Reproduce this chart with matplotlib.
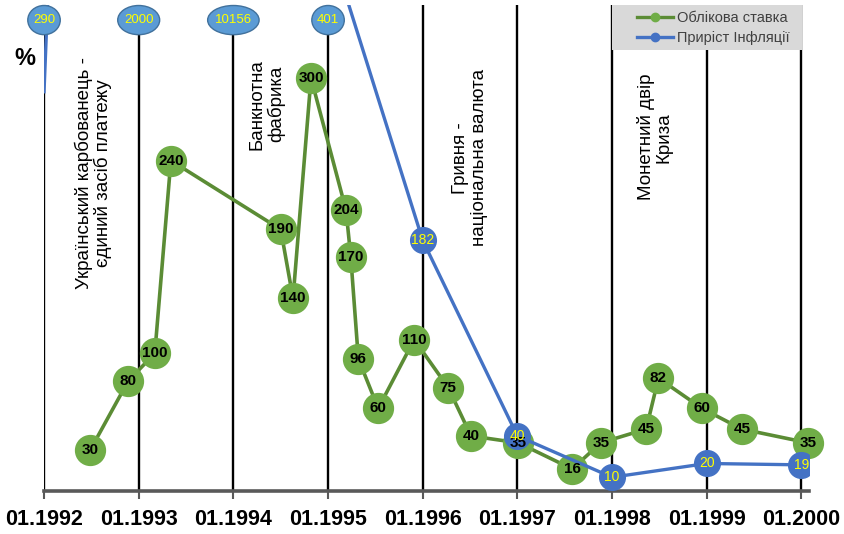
import matplotlib.pyplot as plt
from matplotlib.lines import Line2D
from matplotlib.patches import Ellipse, Rectangle
from matplotlib.transforms import blended_transform_factory

plt.rcParams['font.family'] = ['Liberation Sans', 'DejaVu Sans']

# Облікова ставка НБУ, % (дата зміни у роках)
rate_dates = [1992.49, 1992.89, 1993.17, 1993.34, 1994.50, 1994.63, 1994.82,
              1995.19, 1995.24, 1995.32, 1995.53, 1995.91, 1996.27, 1996.51,
              1997.01, 1997.58, 1997.88, 1998.36, 1998.49, 1998.95, 1999.37,
              2000.07]
rate_values = [30, 80, 100, 240, 190, 140, 300,
               204, 170, 96, 60, 110, 75, 40,
               35, 16, 35, 45, 82, 60, 45,
               35]

# Приріст інфляції, % за рік
infl_years = [1992, 1993, 1994, 1995, 1996, 1997, 1998, 1999, 2000]
infl_values = [290, 2000, 10156, 401, 182, 40, 10, 20, 19]

year_ticks = list(range(1992, 2001))
tick_labels = [f'01.{y}' for y in year_ticks]

events = ['Український карбованець -\nєдиний засіб платежу',
          'Банкнотна\nфабрика',
          'Гривня -\nнаціональна валюта',
          'Монетний двір\nКриза']

green_line = '#5B8C35'
green_mark = '#70AD47'
blue = '#4472C4'

fig = plt.figure(figsize=(8.45, 5.34), dpi=100)
ax = fig.add_axes([0.0521, 0.0805, 0.9053, 0.9101])
ax.set_xlim(1992, 2000.08)
ax.set_ylim(0, 353)
top = blended_transform_factory(ax.transData, ax.transAxes)

for y in year_ticks:
    ax.axvline(y, color='black', lw=1.7, zorder=1)

# облікова ставка
ax.plot(rate_dates, rate_values, color=green_line, lw=2.6, zorder=3,
        marker='o', markersize=21.5, markerfacecolor=green_mark,
        markeredgecolor=green_mark, clip_on=False)
for x, v in zip(rate_dates, rate_values):
    ax.text(x, v, str(v), ha='center', va='center', fontsize=11,
            fontweight='bold', color='black', zorder=10, clip_on=False)

# інфляція: великі значення виходять за межі осі, підписуємо їх угорі
shown = [i for i, v in enumerate(infl_values) if v < 200]
ax.plot(infl_years, infl_values, color=blue, lw=2.4, zorder=5,
        marker='o', markersize=18.5, markevery=shown,
        markerfacecolor=blue, markeredgecolor=blue)
for i, (x, v) in enumerate(zip(infl_years, infl_values)):
    if i in shown:
        ax.text(x, v, str(v), ha='center', va='center', fontsize=10,
                color='yellow', zorder=11, clip_on=False)
    else:
        w = (4 + 9.5 * len(str(v))) / 94.75
        ax.add_patch(Ellipse((x, 0.969), w, 0.06, transform=top,
                             fc='#5B9BD5', ec='#41719C', lw=1,
                             zorder=12, clip_on=False))
        ax.text(x, 0.969, str(v), transform=top, ha='center', va='center',
                fontsize=9.5, color='yellow', zorder=13, clip_on=False)

# підписи подій
event_pos = [(1992.52, 231), (1994.35, 281), (1996.50, 242), (1998.45, 257)]
for (x, y), txt in zip(event_pos, events):
    ax.text(x, y, txt, rotation=90, ha='center', va='center',
            multialignment='center', fontsize=13.5, color='black', zorder=6,
            linespacing=1.1)

for s in ['top', 'right', 'left']:
    ax.spines[s].set_visible(False)
ax.spines['bottom'].set_color('#595959')
ax.spines['bottom'].set_linewidth(2.6)
ax.spines['bottom'].set_zorder(2)
ax.set_yticks([])
ax.set_xticks(year_ticks)
ax.set_xticklabels(tick_labels, fontsize=15.5, fontweight='bold')
ax.tick_params(axis='x', length=6, width=1.5, color='#595959', pad=7)

fig.text(0.03, 0.891, '%', fontsize=17, fontweight='bold',
         ha='center', va='center')

# легенда на сірому тлі
ax.add_patch(Rectangle((0.7425, 0.907), 0.248, 0.093, transform=ax.transAxes,
                       fc='#D9D9D9', ec='none', zorder=19, clip_on=False))
handles = [Line2D([], [], color=green_line, lw=2.4, marker='o', markersize=6,
                  markerfacecolor=green_mark, markeredgecolor=green_mark),
           Line2D([], [], color=blue, lw=2.4, marker='o', markersize=6,
                  markerfacecolor=blue, markeredgecolor=blue)]
leg = ax.legend(handles, ['Облікова ставка', 'Приріст Інфляції'],
                loc='upper left', bbox_to_anchor=(0.775, 0.987),
                borderaxespad=0, borderpad=0, fontsize=10.5, frameon=False,
                handlelength=2.5, handletextpad=0.25, labelspacing=0.4)
leg.set_zorder(20)
for t in leg.get_texts():
    t.set_color('#404040')

fig.savefig('out.png', dpi=100)
